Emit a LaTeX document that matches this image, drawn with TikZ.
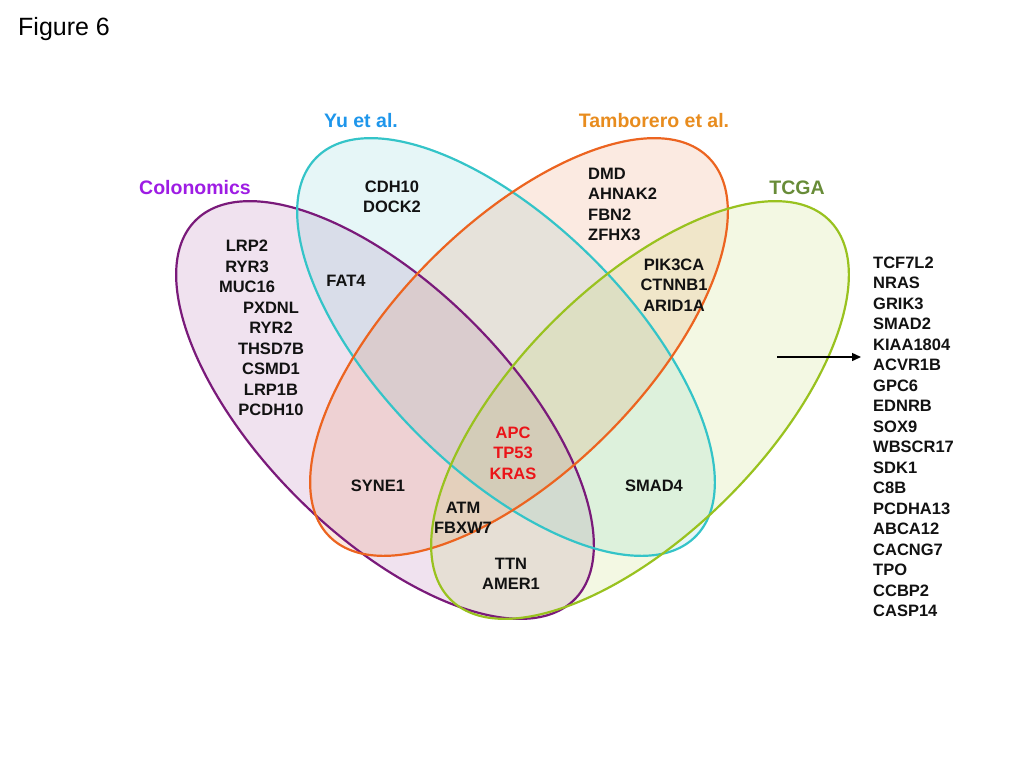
\documentclass[tikz,border=0pt]{standalone}
\usepackage{fontspec}
\setmainfont{Liberation Sans}
\usetikzlibrary{arrows.meta}
\definecolor{colStroke}{RGB}{122,26,122}
\definecolor{yuStroke}{RGB}{52,196,200}
\definecolor{tamStroke}{RGB}{236,100,32}
\definecolor{tcgaStroke}{RGB}{153,194,31}
\definecolor{colFill}{RGB}{138,22,130}
\definecolor{yuFill}{RGB}{55,188,197}
\definecolor{tamFill}{RGB}{230,88,13}
\definecolor{tcgaFill}{RGB}{163,205,30}
\definecolor{colText}{RGB}{158,28,228}
\definecolor{yuText}{RGB}{30,150,235}
\definecolor{tamText}{RGB}{232,140,30}
\definecolor{tcgaText}{RGB}{104,140,56}
\definecolor{coreText}{RGB}{235,20,25}
\tikzset{
  gene/.style={font=\bfseries\fontsize{16.5}{20.5}\selectfont, align=center, inner sep=0pt, text=black!93},
  setlabel/.style={font=\bfseries\fontsize{19.5}{23}\selectfont, inner sep=0pt},
  setfill/.style={fill opacity=0.12},
  setline/.style={line width=2.2pt},
}
\begin{document}
\begin{tikzpicture}[x=1pt,y=-1pt]
\useasboundingbox (0,0) rectangle (1024,768);
\fill[white] (0,0) rectangle (1024,768);
% fills
\fill[setfill, colFill, shift={(385,410)}, rotate=-45] (0,0) ellipse (268pt and 124pt);
\fill[setfill, yuFill, shift={(506,347)}, rotate=-45] (0,0) ellipse (268pt and 124pt);
\fill[setfill, tamFill, shift={(519,347)}, rotate=45] (0,0) ellipse (268pt and 124pt);
\fill[setfill, tcgaFill, shift={(640,410)}, rotate=45] (0,0) ellipse (268pt and 124pt);
% outlines
\draw[setline, colStroke, shift={(385,410)}, rotate=-45] (0,0) ellipse (268pt and 124pt);
\draw[setline, yuStroke, shift={(506,347)}, rotate=-45] (0,0) ellipse (268pt and 124pt);
\draw[setline, tamStroke, shift={(519,347)}, rotate=45] (0,0) ellipse (268pt and 124pt);
\draw[setline, tcgaStroke, shift={(640,410)}, rotate=45] (0,0) ellipse (268pt and 124pt);
% title
\node[font=\fontsize{25}{30}\selectfont, anchor=base west, inner sep=0pt] (fig) at (18,36) {Figure 6};
% set labels
\node[setlabel, text=colText] (labCol) at (195,188) {Colonomics};
\node[setlabel, text=yuText] (labYu) at (361,121) {Yu et al.};
\node[setlabel, text=tamText] (labTam) at (654,121) {Tamborero et al.};
\node[setlabel, text=tcgaText] (labTCGA) at (797,188) {TCGA};
% genes
\node[gene] (colA) at (247,266.5) {LRP2\\RYR3\\MUC16};
\node[gene] (colB) at (271,359) {PXDNL\\RYR2\\THSD7B\\CSMD1\\LRP1B\\PCDH10};
\node[gene] (yuA) at (392,197) {CDH10\\DOCK2};
\node[gene] (fat) at (346,281) {FAT4};
\node[gene, align=left, anchor=west] (tamA) at (588,204.5) {DMD\\AHNAK2\\FBN2\\ZFHX3};
\node[gene] (tamB) at (674,285) {PIK3CA\\CTNNB1\\ARID1A};
\node[gene, text=coreText] (core) at (513,453) {APC\\TP53\\KRAS};
\node[gene] (syne) at (378,486) {SYNE1};
\node[gene] (atm) at (463,518) {ATM\\FBXW7};
\node[gene] (smad) at (654,486) {SMAD4};
\node[gene] (ttn) at (511,574) {TTN\\AMER1};
\node[gene, align=left, anchor=west] (tcgaL) at (873,437) {TCF7L2\\NRAS\\GRIK3\\SMAD2\\KIAA1804\\ACVR1B\\GPC6\\EDNRB\\SOX9\\WBSCR17\\SDK1\\C8B\\PCDHA13\\ABCA12\\CACNG7\\TPO\\CCBP2\\CASP14};
% arrow
\coordinate (arrS) at (777,357);
\coordinate (arrE) at (861,357);
\draw[line width=1.4pt, -{Triangle[length=9pt,width=8pt]}] (arrS) -- (arrE);
\end{tikzpicture}
\end{document}
